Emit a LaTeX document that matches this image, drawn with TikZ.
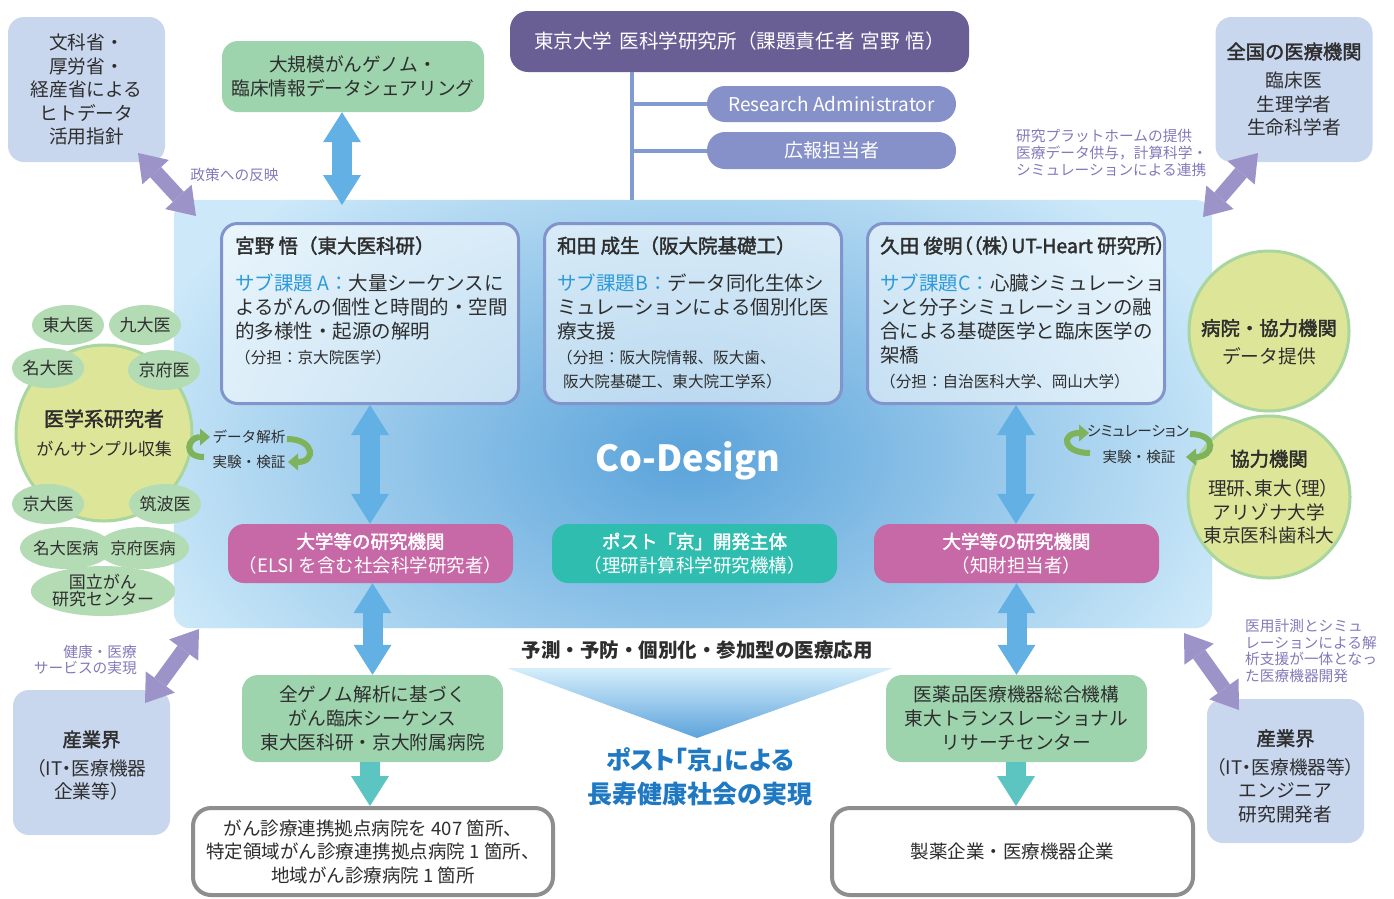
\documentclass[tikz,border=0pt]{standalone}
\usepackage{fontspec}
\setmainfont{Noto Sans CJK JP}
\newfontfamily\paltfont[RawFeature=+palt]{Noto Sans CJK JP}
\newfontfamily\medfont[FakeBold=2]{Noto Sans CJK JP}
\newfontfamily\medpalt[FakeBold=2,RawFeature=+palt]{Noto Sans CJK JP}
\usetikzlibrary{arrows.meta,shapes.geometric}
\newcommand\fsz[2]{\fontsize{#1}{#2}\selectfont}
\definecolor{lav}{HTML}{C8D6EE}
\definecolor{darkpur}{HTML}{6A5F94}
\definecolor{midpur}{HTML}{8591C8}
\definecolor{linecol}{HTML}{7F9BD0}
\definecolor{purarrow}{HTML}{9C94C8}
\definecolor{purtext}{HTML}{8479B9}
\definecolor{panelcol}{HTML}{CDE9F9}
\definecolor{glowcol}{HTML}{5AA3DA}
\definecolor{iboxborder}{HTML}{8194CB}
\definecolor{bluearrow}{HTML}{62B0E4}
\definecolor{gbox}{HTML}{9DD3AD}
\definecolor{pinkbox}{HTML}{C769A7}
\definecolor{tealbox}{HTML}{2FBDAF}
\definecolor{tealarrow}{HTML}{5CC5C1}
\definecolor{ygcircle}{HTML}{DDE698}
\definecolor{ygborder}{HTML}{A9D59F}
\definecolor{smallell}{HTML}{B4DCB4}
\definecolor{cyclegreen}{HTML}{7EB25B}
\definecolor{subblue}{HTML}{2D9BD9}
\definecolor{titleblue}{HTML}{1E78C2}
\definecolor{txt}{HTML}{2E2E2E}
\definecolor{graybord}{HTML}{8E8E8E}
\definecolor{triTop}{HTML}{D5EEFB}
\definecolor{triBot}{HTML}{5CA3DB}
\begin{document}
\begin{tikzpicture}[x=1pt,y=-1pt,
  every node/.style={text=txt},
  rbox/.style={rectangle, rounded corners=16pt, inner sep=0pt, align=center},
  lavbox/.style={rbox, fill=lav, minimum width=157pt, minimum height=145pt, font=\fsz{18.7}{23.5}},
  grbox/.style={rbox, fill=gbox, font=\fsz{18.7}{24}},
  pillbox/.style={rbox, rounded corners=18pt, fill=midpur, text=white, minimum width=249pt, font=\fsz{19}{22}},
  ibox/.style={rbox, draw=iboxborder, line width=3pt, fill=white, fill opacity=0.55, minimum width=297pt, minimum height=180pt},
  orgbox/.style={rbox, text=white, minimum width=285pt, minimum height=59pt, font=\fsz{18.5}{24}},
  wbox/.style={rbox, rounded corners=18pt, draw=graybord, line width=4pt, fill=white, minimum height=87pt, font=\fsz{18.5}{23.5}},
  tline/.style={inner sep=0pt, anchor=west, text height=16.8pt, text depth=2.7pt, font=\fsz{19.5}{24}},
  sline/.style={inner sep=0pt, anchor=west, text height=13.4pt, text depth=2.2pt, font=\fsz{15.6}{24}},
  sell/.style={ellipse, fill=smallell, inner sep=0pt, minimum width=62pt, minimum height=40pt, font=\fsz{17}{17}, align=center},
  bigcirc/.style={circle, fill=ygcircle, draw=ygborder, line width=3pt, inner sep=0pt, align=center, font=\fsz{18.7}{23.5}},
  plabel/.style={text=purtext, font=\fsz{14.7}{16.8}, inner sep=0pt},
  clabel/.style={inner sep=0pt, font=\fsz{14.6}{16}},
  bigdbl/.style={draw=bluearrow, line width=20pt, {Triangle[width=38pt,length=30pt,line width=0pt]}-{Triangle[width=38pt,length=30pt,line width=0pt]}},
  tealdown/.style={draw=tealarrow, line width=20pt, -{Triangle[width=38pt,length=30pt,line width=0pt]}},
  purdbl/.style={draw=purarrow, line width=15pt, {Triangle[width=36pt,length=26pt,line width=0pt]}-{Triangle[width=36pt,length=26pt,line width=0pt]}},
  cyc/.style={draw=cyclegreen, line width=6pt, -{Triangle[width=17pt,length=10pt,line width=0pt]}}
]
\useasboundingbox (0,0) rectangle (1394,898);

% main panel
\node[rbox, fill=panelcol, minimum width=1038pt, minimum height=428pt] (panel) at (693,414) {};
\begin{scope}
  \clip[rounded corners=16pt] (panel.south west) rectangle (panel.north east);
  \shade[inner color=glowcol, outer color=panelcol] (688,455) ellipse [x radius=580pt, y radius=360pt];
\end{scope}

% top nodes
\node[lavbox] (mext) at (86.5,89.5) {文科省・\\厚労省・\\経産省による\\ヒトデータ\\活用指針};
\node[grbox, minimum width=262pt, minimum height=71pt] (genome) at (353,76.5) {大規模がんゲノム・\\臨床情報データシェアリング};
\node[rbox, rounded corners=18pt, fill=darkpur, text=white, minimum width=459pt, minimum height=61pt, font=\fsz{19.6}{22}] (utokyo) at (739.5,41.5) {東京大学\hspace{0.35em}医科学研究所（課題責任者\hspace{0.3em}宮野\hspace{0.3em}悟）};
\node[pillbox, minimum height=36pt] (ra) at (831.5,104) {Research Administrator};
\node[pillbox, minimum height=37pt] (pr) at (831.5,150.5) {広報担当者};
\node[lavbox] (nation) at (1294,89.5) {{\medfont\fsz{19.3}{23.5}全国の医療機関}\\[5.5pt]臨床医\\生理学者\\生命科学者};

% org line
\coordinate (vx) at (632,0);
\draw[linecol, line width=4pt] (utokyo.south -| vx) -- (panel.north -| vx);
\draw[linecol, line width=4pt] (vx |- ra.west) -- (ra.west);
\draw[linecol, line width=4pt] (vx |- pr.west) -- (pr.west);

% three project boxes
\node[ibox] (boxA) at (370,313.5) {};
\node[ibox] (boxB) at (693,313.5) {};
\node[ibox] (boxC) at (1016,313.5) {};

\node[tline, font=\medfont\fsz{19.5}{24}] (tA0) at (235,246) {宮野 悟（東大医科研）};
\node[tline] (tA1) at (235,283) {{\color{subblue}サブ課題 A：}大量シーケンスに};
\node[tline] (tA2) at (235,307) {よるがんの個性と時間的・空間};
\node[tline] (tA3) at (235,331) {的多様性・起源の解明};
\node[sline] (tA4) at (235,358) {（分担：京大院医学）};

\node[tline, font=\medfont\fsz{19.5}{24}] (tB0) at (557,246) {和田 成生（阪大院基礎工）};
\node[tline] (tB1) at (557,283) {{\color{subblue}サブ課題B：}データ同化生体シ};
\node[tline] (tB2) at (557,307) {ミュレーションによる個別化医};
\node[tline] (tB3) at (557,331) {療支援};
\node[sline] (tB4) at (557,358) {（分担：阪大院情報、阪大歯、};
\node[sline] (tB5) at (563,382) {阪大院基礎工、東大院工学系）};

\node[tline, font=\medpalt\fsz{19.5}{24}] (tC0) at (880,246) {久田 俊明（（株）UT-Heart 研究所）};
\node[tline] (tC1) at (880,283) {{\color{subblue}サブ課題C：}心臓シミュレーショ};
\node[tline] (tC2) at (880,307) {ンと分子シミュレーションの融};
\node[tline] (tC3) at (880,331) {合による基礎医学と臨床医学の};
\node[tline] (tC4) at (880,355) {架橋};
\node[sline] (tC5) at (880,382) {（分担：自治医科大学、岡山大学）};

\node[inner sep=0pt, text=white, font=\bfseries\fsz{36}{40}] (codesign) at (688,461) {Co-Design};

% organisation boxes
\node[orgbox, fill=pinkbox] (pinkL) at (370.5,553.5) {{\medfont 大学等の研究機関}\\（ELSI を含む社会科学研究者）};
\node[orgbox, fill=tealbox] (tealC) at (694.5,553.5) {{\medfont ポスト「京」開発主体}\\（理研計算科学研究機構）};
\node[orgbox, fill=pinkbox] (pinkR) at (1016.5,553.5) {{\medfont 大学等の研究機関}\\（知財担当者）};

% left cluster
\node[bigcirc, minimum size=176pt, font=\fsz{17}{24}] (medres) at (104,433) {{\medfont\fsz{20}{24}医学系研究者}\\[5pt]がんサンプル収集};
\node[sell] (e1) at (68,325) {東大医};
\node[sell] (e2) at (145,325) {九大医};
\node[sell] (e3) at (48,368) {名大医};
\node[sell] (e4) at (164,370) {京府医};
\node[sell] (e5) at (48,504) {京大医};
\node[sell] (e6) at (165,504) {筑波医};
\node[sell, minimum width=72pt, minimum height=42pt, font=\fsz{16.3}{17}] (e7) at (66,548) {名大医病};
\node[sell, minimum width=72pt, minimum height=42pt, font=\fsz{16.3}{17}] (e8) at (143,548) {京府医病};
\node[sell, minimum width=112pt, minimum height=50pt] (e9) at (103,591) {国立がん\\研究センター};

% left cycle
\node[clabel] (cl1) at (249,437) {データ解析};
\node[clabel] (cl2) at (249,462) {実験・検証};
\coordinate (cL1s) at (204,457);
\coordinate (cL1e) at (210,437);
\coordinate (cL2s) at (287,439);
\coordinate (cL2e) at (288,462);
\draw[cyc] (cL1s) to[out=180, in=180, distance=22pt] (cL1e);
\draw[cyc] (cL2s) to[out=0, in=0, distance=28pt] (cL2e);

% right circles
\node[bigcirc, minimum size=160pt] (hosp) at (1269,331) {};
\node[inner sep=0pt, align=center, font=\fsz{18.7}{24}] (hospt) at (1269,342) {{\medfont\fsz{19.4}{24}病院・協力機関}\\[4pt]データ提供};
\node[bigcirc, minimum size=162pt] (coop) at (1269,497) {{\medfont\fsz{19.4}{23.5}協力機関}\\[6pt]{\paltfont 理研、東大（理）}\\アリゾナ大学\\東京医科歯科大};

% right cycle
\node[clabel, font=\paltfont\fsz{14.6}{16}] (cr1) at (1138,431) {シミュレーション};
\node[clabel] (cr2) at (1139,457) {実験・検証};
\coordinate (cR1s) at (1090,453);
\coordinate (cR1e) at (1089,433);
\coordinate (cR2s) at (1190,434);
\coordinate (cR2e) at (1186,457);
\draw[cyc] (cR1s) to[out=180, in=180, distance=28pt] (cR1e);
\draw[cyc] (cR2s) to[out=0, in=0, distance=28pt] (cR2e);

% blue double arrows
\coordinate (gArrowEnd) at (342,205);
\draw[bigdbl] (genome.south -| gArrowEnd) -- (gArrowEnd);
\draw[bigdbl] (boxA.south) -- (boxA.south |- pinkL.north);
\draw[bigdbl] (boxC.south) -- (boxC.south |- pinkR.north);

% bottom part
\node[inner sep=0pt, font=\bfseries\fsz{19.5}{22}] (apply) at (697,650) {予測・予防・個別化・参加型の医療応用};
\shade[top color=triTop, bottom color=triBot] (507,668) -- (893,668) -- (697,738) -- cycle;
\node[inner sep=0pt, align=center, text=titleblue, font=\paltfont\bfseries\fsz{25}{34}] (goal) at (700,777) {ポスト「京」による\\長寿健康社会の実現};

\node[grbox, minimum width=261pt, minimum height=87pt] (greenL) at (372.5,718.5) {全ゲノム解析に基づく\\がん臨床シーケンス\\東大医科研・京大附属病院};
\node[grbox, minimum width=261pt, minimum height=87pt] (greenR) at (1016.5,718.5) {医薬品医療機器総合機構\\東大トランスレーショナル\\リサーチセンター};

\draw[bigdbl] (pinkL.south -| greenL.north) -- (greenL.north);
\draw[bigdbl] (pinkR.south -| greenR.north) -- (greenR.north);

\node[wbox, minimum width=360pt] (whiteL) at (373,851.5) {がん診療連携拠点病院を 407 箇所、\\特定領域がん診療連携拠点病院 1 箇所、\\地域がん診療病院 1 箇所};
\node[wbox, minimum width=361pt] (whiteR) at (1012.5,851.5) {製薬企業・医療機器企業};

\coordinate (tLx) at (370,0);
\coordinate (tRx) at (1016,0);
\draw[tealdown] (greenL.south -| tLx) -- (whiteL.north -| tLx);
\draw[tealdown] (greenR.south -| tRx) -- (whiteR.north -| tRx);

\node[lavbox] (indL) at (91.5,762.5) {};
\node[inner sep=0pt, align=center, font=\fsz{18.7}{23.5}] (indLt) at (91.5,765.5) {{\medfont\fsz{19.3}{23.5}産業界}\\[5pt]{\paltfont（IT・医療機器}\\企業等）};
\node[lavbox, minimum height=144pt] (indR) at (1285.5,771) {};
\node[inner sep=0pt, align=center, font=\fsz{18.7}{23.5}] (indRt) at (1285.5,776) {{\medfont\fsz{19.3}{23.5}産業界}\\[5pt]{\paltfont（IT・医療機器等）}\\エンジニア\\研究開発者};

% purple diagonal arrows
\coordinate (pTL1) at (138,153);
\coordinate (pTL2) at (196,216);
\coordinate (pTR1) at (1258,153);
\coordinate (pTR2) at (1203,217);
\coordinate (pBL1) at (199,629);
\coordinate (pBL2) at (145,703);
\coordinate (pBR1) at (1184,633);
\coordinate (pBR2) at (1239,710);
\draw[purdbl] (pTL1) -- (pTL2);
\draw[purdbl] (pTR1) -- (pTR2);
\draw[purdbl] (pBL1) -- (pBL2);
\draw[purdbl] (pBR1) -- (pBR2);

% purple labels
\node[plabel] (lTL) at (234.5,175) {政策への反映};
\node[plabel, anchor=west, align=left] (lTR) at (1016,153) {研究プラットホームの提供\\医療データ供与，計算科学・\\シミュレーションによる連携};
\node[plabel, anchor=east, align=right, font=\fsz{14.7}{16.2}] (lBL) at (137,660) {健康・医療\\サービスの実現};
\node[plabel, anchor=west, align=left] (lBR) at (1245,651) {医用計測とシミュ\\レーションによる解\\析支援が一体となっ\\た医療機器開発};
\end{tikzpicture}
\end{document}
